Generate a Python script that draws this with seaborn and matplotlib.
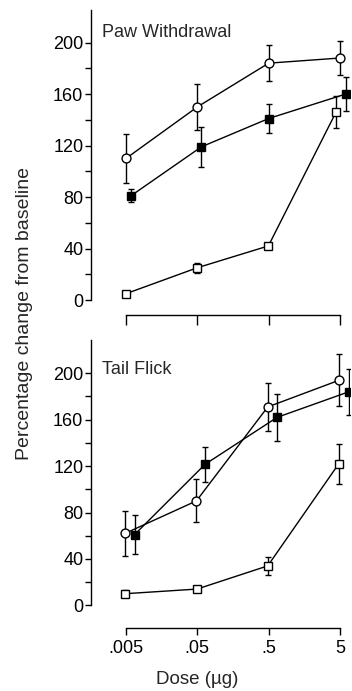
import numpy as np
import pandas as pd
import matplotlib
matplotlib.use("Agg")
import matplotlib.pyplot as plt
import seaborn as sns

# ---- data ----
doses = [0.005, 0.05, 0.5, 5]
dose_labels = [".005", ".05", ".5", "5"]

paw_circle = [110, 150, 184, 188]
paw_circle_err = [19, 18, 14, 13]
paw_filled = [81, 119, 141, 160]
paw_filled_err = [5, 15.5, 11, 13.5]
paw_open = [5, 25, 42, 146]
paw_open_err = [0, 4, 2, 12.5]

tail_circle = [62, 90, 171, 194]
tail_circle_err = [19.5, 18.5, 21, 22.5]
tail_filled = [61, 121.5, 162, 184]
tail_filled_err = [17, 15, 20, 20]
tail_open = [10, 14, 34, 122]
tail_open_err = [3, 2, 8, 17]

# ---- styling (horizontal dodge factors for overlapping points) ----
dodge_paw = {"circle": [1, 1, 1, 1], "filled": [1.175, 1.14, 1.0, 1.2], "open": [1.01, 0.99, 0.99, 0.88]}
dodge_tail = {"circle": [0.97, 0.97, 0.97, 0.97], "filled": [1.32, 1.28, 1.31, 1.32], "open": [0.97, 0.99, 0.97, 0.96]}

sns.set_style("ticks")
plt.rcParams["font.family"] = ["Liberation Sans", "DejaVu Sans"]

FS = 13

fig = plt.figure(figsize=(3.52, 6.91), dpi=100)
ax_top = fig.add_axes([91/352, 1-315/691, (350-91)/352, 305/691])
ax_bot = fig.add_axes([91/352, 1-627.7/691, (350-91)/352, 287.7/691])

styles = {
    "circle": dict(marker="o", markerfacecolor="white", markersize=6.4),
    "filled": dict(marker="s", markerfacecolor="black", markersize=5.8),
    "open": dict(marker="s", markerfacecolor="white", markersize=5.8),
}


def draw(ax, series, dodge, ymin, ymax, title, title_y):
    for key, (vals, errs) in series.items():
        xs = np.array(doses) * np.array(dodge[key])
        df = pd.DataFrame({"dose": xs, "val": vals})
        ax.errorbar(xs, vals, yerr=errs, fmt="none", ecolor="black",
                    elinewidth=1.0, capsize=2.4, capthick=1.0, zorder=2)
        sns.lineplot(data=df, x="dose", y="val", ax=ax, color="black",
                     lw=1.0, markeredgecolor="black", markeredgewidth=1.0,
                     zorder=3, **styles[key])
    ax.set_xscale("log")
    ax.set_xlim(0.001614, 6.9)
    ax.set_ylim(ymin, ymax)
    ax.set_yticks([0, 40, 80, 120, 160, 200])
    ax.set_yticks([20, 60, 100, 140, 180], minor=True)
    ax.set_xticks(doses)
    ax.xaxis.set_minor_locator(matplotlib.ticker.NullLocator())
    ax.set_xticklabels(dose_labels)
    for s in ["top", "right"]:
        ax.spines[s].set_visible(False)
    ax.spines["left"].set_bounds(0, ymax)
    ax.spines["bottom"].set_bounds(doses[0], doses[-1])
    for s in ["left", "bottom"]:
        ax.spines[s].set_linewidth(1.0)
        ax.spines[s].set_color("black")
    ax.tick_params(axis="y", which="both", direction="out", length=4, width=1.0,
                   pad=1.5, labelsize=FS, colors="black")
    ax.tick_params(axis="x", which="major", direction="out", length=5, width=1.0,
                   pad=4, labelsize=FS, colors="black")
    ax.set_xlabel("")
    ax.set_ylabel("")
    ax.set_facecolor("white")
    ax.text(0.041, title_y, title, transform=ax.transAxes, fontsize=FS,
            va="center", ha="left")


draw(ax_top, {"circle": (paw_circle, paw_circle_err),
              "filled": (paw_filled, paw_filled_err),
              "open": (paw_open, paw_open_err)},
     dodge_paw, -11.65, 225.3, "Paw Withdrawal", 0.925)
ax_top.tick_params(axis="x", labelbottom=False, length=7)

draw(ax_bot, {"circle": (tail_circle, tail_circle_err),
              "filled": (tail_filled, tail_filled_err),
              "open": (tail_open, tail_open_err)},
     dodge_tail, -19.3, 228.7, "Tail Flick", 0.899)

fig.text(197/352, 1-680/691, "Dose (\u00b5g)", ha="center", va="center", fontsize=13.5)
fig.text(25/352, 1-313/691, "Percentage change from baseline", ha="center",
         va="center", rotation=90, fontsize=14)

fig.savefig("out.png", dpi=100, facecolor="white")
